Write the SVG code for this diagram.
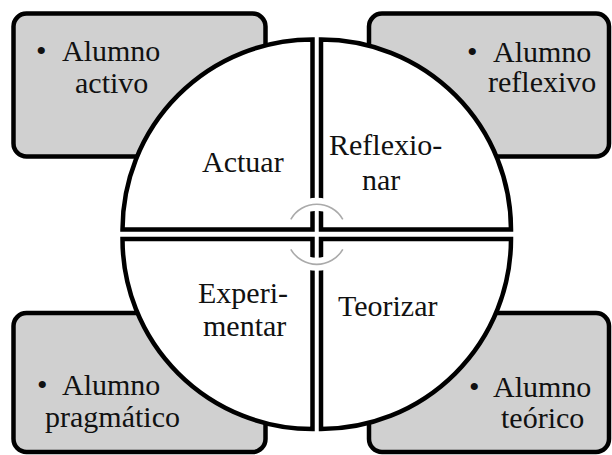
<svg xmlns="http://www.w3.org/2000/svg" width="612" height="455" viewBox="0 0 612 455" font-family="'Liberation Serif', 'Times New Roman', serif" font-size="30">
<style>
.box{fill:#d0d0d0;stroke:#000;stroke-width:4.5}
.quad{fill:#fff;stroke:#000;stroke-width:4.5;stroke-linejoin:miter}
.t{font-family:'Liberation Serif','Times New Roman',serif;font-size:30px;fill:#111}
.halo{fill:none;stroke:#fff;stroke-width:13}
.arc{fill:none;stroke:#aaa;stroke-width:1.6}
</style>
<rect width="612" height="455" fill="#fff"/>
<g id="box-activo">
<rect class="box" x="13.5" y="13.5" width="252" height="143" rx="13"/>
<text class="t" x="36" y="61">•</text><text class="t" x="62" y="61">Alumno</text>
<text class="t" x="75" y="93">activo</text>
</g>
<g id="box-reflexivo">
<rect class="box" x="369" y="13.5" width="240" height="143" rx="13"/>
<text class="t" x="467" y="62">•</text><text class="t" x="493" y="62">Alumno</text>
<text class="t" x="488" y="92">reflexivo</text>
</g>
<g id="box-pragmatico">
<rect class="box" x="13.5" y="313" width="252" height="139" rx="13"/>
<text class="t" x="37" y="395">•</text><text class="t" x="62" y="395">Alumno</text>
<text class="t" x="45" y="427">pragmático</text>
</g>
<g id="box-teorico">
<rect class="box" x="369" y="313" width="240" height="139" rx="13"/>
<text class="t" x="469" y="397">•</text><text class="t" x="493" y="397">Alumno</text>
<text class="t" x="501" y="428">teórico</text>
</g>
<g id="q-actuar">
<path class="quad" d="M312.5 229.5 L122.5 229.5 A190 190 0 0 1 312.5 39.5 Z"/>
<text class="t" x="202" y="172">Actuar</text>
</g>
<g id="q-reflexionar">
<path class="quad" d="M321 229.5 L321 39.5 A190 190 0 0 1 511 229.5 Z"/>
<text class="t" x="329" y="155">Reflexio-</text>
<text class="t" x="362" y="190">nar</text>
</g>
<g id="q-experimentar">
<path class="quad" d="M312.5 239 L312.5 429 A190 190 0 0 1 122.5 239 Z"/>
<text class="t" x="198" y="303">Experi-</text>
<text class="t" x="203" y="336">mentar</text>
</g>
<g id="q-teorizar">
<path class="quad" d="M321 239 L511 239 A190 190 0 0 1 321 429 Z"/>
<text class="t" x="338" y="316">Teorizar</text>
</g>
<g id="connectors">
<path class="halo" d="M290.8 219.3 A30 30 0 0 1 342.8 219.3"/>
<path class="halo" d="M342.8 249.3 A30 30 0 0 1 290.8 249.3"/>
<path class="arc" d="M290.8 219.3 A30 30 0 0 1 342.8 219.3"/>
<path class="arc" d="M342.8 249.3 A30 30 0 0 1 290.8 249.3"/>
</g>
</svg>
